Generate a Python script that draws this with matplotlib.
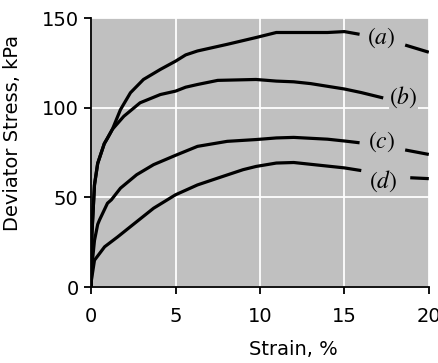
import matplotlib
matplotlib.use('Agg')
from matplotlib import pyplot as plt

# Curve data (strain %, deviator stress kPa)
a_strain = [0, 0.05, 0.2, 0.39, 0.78, 0.97, 1.26, 1.74, 2.33, 3.1, 4.1, 5.0, 5.6, 6.3, 8.06, 9.77, 10.97, 12, 13, 14, 15, 15.9]
a_stress = [0, 30, 57, 69, 80, 83, 88, 99, 108.4, 115.8, 121.4, 126, 129.5, 131.7, 135.4, 139.2, 142, 142, 142, 142, 142.5, 141]
a_tail_strain = [18.6, 20]
a_tail_stress = [135, 131]

b_strain = [0, 0.05, 0.2, 0.39, 0.78, 1.26, 1.94, 2.9, 4.1, 5.0, 5.6, 6.3, 7.5, 9.77, 10.97, 12, 13, 14, 15, 16, 17.3]
b_stress = [0, 30, 57, 69, 80, 88, 95.3, 102.8, 107.4, 109.3, 111.5, 113, 115.3, 115.8, 114.9, 114.5, 113.5, 112, 110.5, 108.5, 105.5]

c_strain = [0, 0.05, 0.2, 0.39, 0.5, 0.97, 1.2, 1.74, 2.7, 3.7, 5.0, 6.3, 8.06, 9.77, 10.97, 12, 13, 14, 15, 15.9]
c_stress = [0, 12, 26, 35, 37.5, 46.8, 48.7, 55.2, 62.7, 68.3, 73.5, 78.5, 81.3, 82.3, 83.2, 83.5, 83, 82.5, 81.5, 80.5]
c_tail_strain = [18.6, 20]
c_tail_stress = [76.5, 74]

d_strain = [0, 0.02, 0.2, 0.8, 1.57, 2.5, 3.7, 5.0, 6.3, 7.5, 9.0, 9.77, 10.97, 12, 13, 14, 15, 16]
d_stress = [0, 4, 15, 22.5, 28, 35, 44, 51.5, 57, 60.8, 65.5, 67.3, 69.2, 69.5, 68.5, 67.5, 66.5, 65]
d_tail_strain = [18.9, 20]
d_tail_stress = [61, 60.5]

labels = ['$(a)$', '$(b)$', '$(c)$', '$(d)$']
label_x = [17.2, 18.5, 17.2, 17.3]
label_y = [139, 106, 81, 59]

plt.rcParams['font.family'] = ['DejaVu Sans']
plt.rcParams['mathtext.fontset'] = 'stix'

bg = '#c0c0c0'

fig = plt.figure(figsize=(4.38, 3.63), dpi=100)
ax = fig.add_axes([0.208, 0.209, 0.771, 0.741])
ax.set_facecolor(bg)

ax.grid(True, color='white', linewidth=1.3)
ax.set_axisbelow(True)

for xs, ys in [(a_strain, a_stress), (a_tail_strain, a_tail_stress),
               (b_strain, b_stress),
               (c_strain, c_stress), (c_tail_strain, c_tail_stress),
               (d_strain, d_stress), (d_tail_strain, d_tail_stress)]:
    ax.plot(xs, ys, color='black', linewidth=2.3, solid_capstyle='butt', zorder=3)

for txt, x, y in zip(labels, label_x, label_y):
    ax.text(x, y, txt, fontsize=17, ha='center', va='center', zorder=4,
            bbox=dict(facecolor=bg, edgecolor='none', pad=0.5))

ax.set_xlim(0, 20)
ax.set_ylim(0, 150)
ax.set_xticks([0, 5, 10, 15, 20])
ax.set_yticks([0, 50, 100, 150])
ax.tick_params(direction='out', length=5, width=1.3, labelsize=14, colors='black')
ax.tick_params(axis='x', pad=9)
ax.tick_params(axis='y', pad=4)

for side in ['top', 'right']:
    ax.spines[side].set_visible(False)
for side in ['left', 'bottom']:
    ax.spines[side].set_linewidth(1.3)

ax.set_xlabel('Strain, %', fontsize=14)
ax.set_ylabel('Deviator Stress, kPa', fontsize=14)
ax.xaxis.set_label_coords(0.6, -0.198)
ax.yaxis.set_label_coords(-0.205, 0.572)

fig.savefig('out.png', dpi=100)
